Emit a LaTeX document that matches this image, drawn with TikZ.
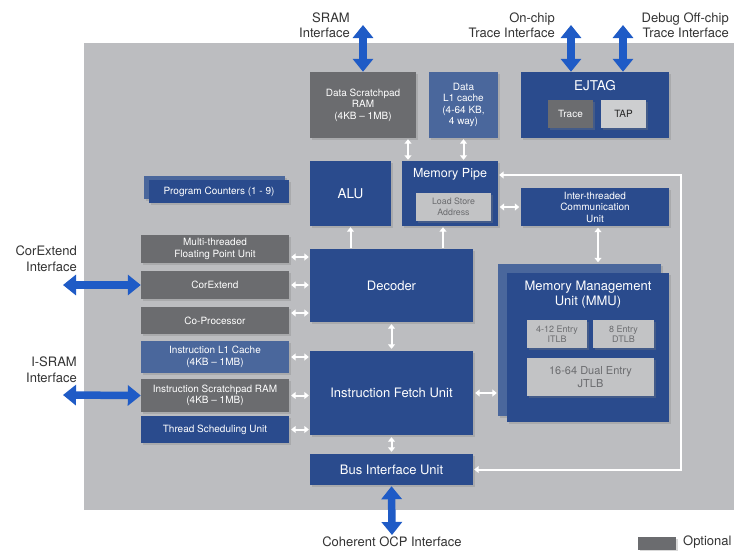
\documentclass[tikz,border=0pt]{standalone}
\usepackage{fontspec}
\setmainfont{TeX Gyre Heros}
\usetikzlibrary{arrows.meta,shadows,calc}
\definecolor{bggray}{HTML}{BCBDC0}
\definecolor{dblue}{HTML}{2A4B8D}
\definecolor{mblue}{HTML}{4A679C}
\definecolor{dgray}{HTML}{6B6C6F}
\definecolor{lgray}{HTML}{C2C3C5}
\definecolor{tapgray}{HTML}{CDCED0}
\definecolor{arrblue}{HTML}{1F5BC6}
\definecolor{outtext}{HTML}{333333}
\newcommand{\fs}[2]{\fontsize{#1}{#2}\selectfont}
\begin{document}
\begin{tikzpicture}[x=1pt,y=-1pt,
  bx/.style={rectangle, inner sep=1pt, align=center, text=white,
    drop shadow={shadow xshift=1.5pt, shadow yshift=-1.5pt, opacity=0.3}},
  blu/.style={bx, fill=dblue},
  mbl/.style={bx, fill=mblue},
  gry/.style={bx, fill=dgray},
  lgr/.style={bx, fill=lgray, text=dgray},
  ttl/.style={inner sep=0pt, align=center, text=white},
  outl/.style={inner sep=0pt, text=outtext, font=\fs{13}{15.5}},
  warr/.style={draw=white, line width=2pt, >={Triangle[width=7pt,length=4.5pt]}},
  barr/.style={draw=arrblue, line width=7.5pt, >={Triangle[width=20pt,length=13pt]}, <->}
]
\useasboundingbox (0,0) rectangle (747,550);
\fill[white] (0,0) rectangle (747,550);
\fill[bggray] (84,43) rectangle (734,510);

% top row
\node[gry, minimum width=106pt, minimum height=66pt, font=\fs{10}{11.5}] (dsr) at (363,105) {Data Scratchpad\\RAM\\(4KB – 1MB)};
\node[mbl, minimum width=69pt, minimum height=66pt, font=\fs{10}{11.5}] (dl1) at (463.5,105) {Data\\L1 cache\\(4-64 KB,\\4 way)};
\node[blu, minimum width=148pt, minimum height=66pt] (ejtag) at (595,105) {};
\node[ttl, font=\fs{13.5}{15}] (ejtagt) at (595,86) {EJTAG};
\node[gry, minimum width=45pt, minimum height=28pt, font=\fs{10}{12}] (trace) at (570.5,114) {Trace};
\node[bx, fill=tapgray, text=black!85, minimum width=45pt, minimum height=28pt, font=\fs{10}{12}] (tap) at (623.5,114) {TAP};

% second row
\node[blu, minimum width=81pt, minimum height=65pt, font=\fs{13.5}{15}] (alu) at (350.5,193.5) {ALU};
\node[blu, minimum width=96pt, minimum height=65pt] (mp) at (450,193.5) {};
\node[ttl, font=\fs{12.5}{14}] (mpt) at (450,174) {Memory Pipe};
\node[lgr, minimum width=75pt, minimum height=28pt, font=\fs{8.8}{10.5}] (lsa) at (453.5,207) {Load Store\\Address};
\node[blu, minimum width=148pt, minimum height=38pt, font=\fs{10}{11.5}] (itc) at (595,207) {Inter-threaded\\Communication\\Unit};

% program counters
\node[mbl, minimum width=141pt, minimum height=23pt] (pcb) at (214.5,187.5) {};
\node[blu, minimum width=140pt, minimum height=23pt, font=\fs{10}{12}] (pc) at (219,191.5) {Program Counters (1 - 9)};

% left column
\node[gry, minimum width=148pt, minimum height=28pt, font=\fs{10}{11.5}] (fpu) at (215,249) {Multi-threaded\\Floating Point Unit};
\node[gry, minimum width=148pt, minimum height=28pt, font=\fs{10}{12}] (corx) at (215,285) {CorExtend};
\node[gry, minimum width=148pt, minimum height=27pt, font=\fs{10}{12}] (cop) at (215,320.5) {Co-Processor};
\node[mbl, minimum width=148pt, minimum height=32pt, font=\fs{10}{11.5}] (il1) at (215,357) {Instruction L1 Cache\\(4KB – 1MB)};
\node[gry, minimum width=148pt, minimum height=33pt, font=\fs{10}{11.5}] (isr) at (215,395.5) {Instruction Scratchpad RAM\\(4KB – 1MB)};
\node[blu, minimum width=148pt, minimum height=27pt, font=\fs{10}{12}] (tsu) at (215,429.5) {Thread Scheduling Unit};

% centre column
\node[blu, minimum width=163pt, minimum height=73pt, font=\fs{13}{15}] (dec) at (391.5,285.5) {Decoder};
\node[blu, minimum width=163pt, minimum height=84pt, font=\fs{13}{15}] (ifu) at (391.5,393) {Instruction Fetch Unit};
\node[blu, minimum width=163pt, minimum height=31pt, font=\fs{13}{15}] (biu) at (391.5,469.5) {Bus Interface Unit};

% MMU
\node[mbl, minimum width=163pt, minimum height=152pt] (mmub) at (579.5,340) {};
\node[blu, minimum width=162pt, minimum height=149pt] (mmu) at (588,347.5) {};
\node[ttl, font=\fs{13}{15}] (mmut) at (588,294.5) {Memory Management\\Unit (MMU)};
\node[lgr, minimum width=60pt, minimum height=28pt, font=\fs{9}{9.5}] (itlb) at (557,334) {4-12 Entry\\ITLB};
\node[lgr, minimum width=61pt, minimum height=28pt, font=\fs{9}{9.5}] (dtlb) at (623.5,334) {8 Entry\\DTLB};
\node[lgr, minimum width=127pt, minimum height=38pt, font=\fs{11}{13}] (jtlb) at (590.5,377) {16-64 Dual Entry\\JTLB};

% white connectors
\draw[warr, <->, shorten <=1pt, shorten >=1pt] ([xshift=45pt]dsr.south) -- ([xshift=45pt]dsr.south |- mp.north);
\draw[warr, <->, shorten <=1pt, shorten >=1pt] (dl1.south) -- (dl1.south |- mp.north);
\draw[warr, ->, shorten <=1pt, shorten >=1pt] (alu.south |- dec.north) -- (alu.south);
\draw[warr, ->, shorten <=1pt, shorten >=1pt] ([xshift=-7pt]mp.south |- dec.north) -- ([xshift=-7pt]mp.south);
\draw[warr, <->, shorten <=1.5pt, shorten >=1.5pt] (mp.east |- itc.west) -- (itc.west);
\draw[warr, <->, shorten <=1.5pt, shorten >=1.5pt] ([xshift=3pt]itc.south) -- ([xshift=3pt]itc.south |- mmub.north);
\draw[warr, <->, shorten <=2pt, shorten >=2pt] (dec.south) -- (ifu.north);
\draw[warr, <->, shorten <=2pt, shorten >=2pt] (ifu.south) -- (biu.north);
\draw[warr, <->, shorten <=2pt, shorten >=1pt] (ifu.east) -- (ifu.east -| mmub.west);

\draw[warr, <->, shorten <=2pt, shorten >=1pt] ([yshift=-8pt]fpu.east) -- ([yshift=-8pt]fpu.east -| dec.west);
\draw[warr, <->, shorten <=2pt, shorten >=1pt] (corx.east) -- (corx.east -| dec.west);
\draw[warr, <->, shorten <=2pt, shorten >=1pt] ([yshift=7.5pt]cop.east) -- ([yshift=7.5pt]cop.east -| dec.west);
\draw[warr, <->, shorten <=2pt, shorten >=1pt] (il1.east) -- (il1.east -| ifu.west);
\draw[warr, <->, shorten <=2pt, shorten >=1pt] (isr.east) -- (isr.east -| ifu.west);
\draw[warr, <->, shorten <=2pt, shorten >=1pt] (tsu.east) -- (tsu.east -| ifu.west);

\coordinate (fbk) at (681,175);
\draw[warr, <->, shorten <=1pt, shorten >=1pt] (biu.east) -| (fbk) -- (fbk -| mp.east);

% blue interface arrows
\coordinate (sramend) at (363,25);
\coordinate (trend) at (571,25);
\coordinate (dbgend) at (623,25);
\coordinate (cxend) at (63,285);
\coordinate (isrend) at (63,395);
\coordinate (ocpend) at (392,535);
\draw[barr] (sramend) -- (sramend |- dsr.north);
\draw[barr] (trend) -- (trend |- ejtag.north);
\draw[barr] (dbgend) -- (dbgend |- ejtag.north);
\draw[barr] (cxend) -- (corx.west);
\draw[barr] (isrend) -- (isr.west);
\draw[barr, shorten <=1pt] (biu.south) -- (ocpend);

% outer labels
\node[outl, anchor=east, align=right] (sraml) at (350,25) {SRAM\\Interface};
\node[outl, anchor=east, align=right] (trl) at (555,25) {On-chip\\Trace Interface};
\node[outl, anchor=east, align=right] (dbgl) at (729,25) {Debug Off-chip\\Trace Interface};
\node[outl, anchor=east, align=right] (cxl) at (77,258.5) {CorExtend\\Interface};
\node[outl, anchor=east, align=right] (isrl) at (77,369.5) {I-SRAM\\Interface};
\node[outl] (ocpl) at (392,542) {Coherent OCP Interface};
\node[gry, minimum width=38pt, minimum height=13pt] (optbox) at (657,543.5) {};
\node[outl, anchor=west] (optl) at (683,542) {Optional};
\end{tikzpicture}
\end{document}
